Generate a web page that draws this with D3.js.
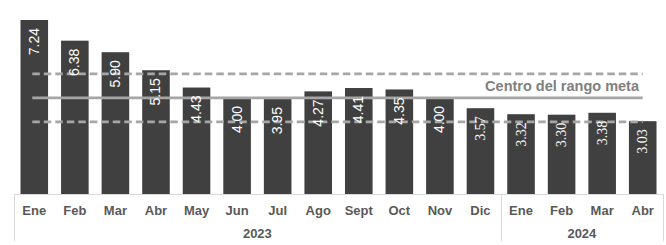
<!DOCTYPE html>
<html>
<head>
<meta charset="utf-8">
<script src="https://cdn.jsdelivr.net/npm/d3@7/dist/d3.min.js"></script>
<style>
  body { margin: 0; background: #fff; }
</style>
</head>
<body>
<div id="chart"></div>
<script>
// datos
var meses = ["Ene", "Feb", "Mar", "Abr", "May", "Jun", "Jul", "Ago", "Sept", "Oct", "Nov", "Dic", "Ene", "Feb", "Mar", "Abr"];
var anios = ["2023", "2023", "2023", "2023", "2023", "2023", "2023", "2023", "2023", "2023", "2023", "2023", "2024", "2024", "2024", "2024"];
var inflacion = [7.24, 6.38, 5.90, 5.15, 4.43, 4.00, 3.95, 4.27, 4.41, 4.35, 4.00, 3.57, 3.32, 3.30, 3.38, 3.03];
var rangoMeta = [3, 5];
var centroMeta = 4;

var width = 666, height = 245;
var left = 14, right = 663, base = 194;

var svg = d3.select("#chart").append("svg")
    .attr("width", width)
    .attr("height", height);

var ids = d3.range(meses.length);
var x = d3.scaleBand()
    .domain(ids)
    .range([left, right])
    .paddingInner(0.32)
    .paddingOuter(0.16);

var y = d3.scaleLinear()
    .domain([0, 7.24])
    .range([base, 20]);

// barras
svg.append("g")
    .selectAll("rect")
    .data(inflacion)
    .enter()
    .append("rect")
    .attr("x", function(d, i) { return x(i); })
    .attr("y", function(d) { return y(d); })
    .attr("width", x.bandwidth())
    .attr("height", function(d) { return base - y(d); })
    .attr("fill", "#404040");

// lineas de meta
var x0 = x(0) + x.bandwidth() / 2 - 2;
var x1 = x(ids.length - 1) + x.bandwidth() / 2;

svg.append("g")
    .selectAll("line")
    .data(rangoMeta)
    .enter()
    .append("line")
    .attr("x1", x0)
    .attr("x2", x1)
    .attr("y1", function(d) { return y(d); })
    .attr("y2", function(d) { return y(d); })
    .attr("stroke", "#a6a6a6")
    .attr("stroke-width", 2.6)
    .attr("stroke-dasharray", "7.5,4");

svg.append("line")
    .attr("x1", x0)
    .attr("x2", x1)
    .attr("y1", y(centroMeta))
    .attr("y2", y(centroMeta))
    .attr("stroke", "#a6a6a6")
    .attr("stroke-width", 2.6);

svg.append("text")
    .attr("x", 639)
    .attr("y", (y(rangoMeta[1]) + y(centroMeta)) / 2 + 5)
    .attr("text-anchor", "end")
    .attr("font-family", "Liberation Sans, Arial, sans-serif")
    .attr("font-size", "14.5px")
    .attr("font-weight", "bold")
    .attr("fill", "#808080")
    .text("Centro del rango meta");

// etiquetas de valor
svg.append("g")
    .selectAll("text")
    .data(inflacion)
    .enter()
    .append("text")
    .attr("transform", function(d, i) {
        return "translate(" + (x(i) + x.bandwidth() / 2 + 4.5) + "," + (y(d) + 8) + ") rotate(-90)";
    })
    .attr("text-anchor", "end")
    .attr("font-family", function(d, i) {
        return i >= 11 ? "Liberation Serif, serif" : "Liberation Sans Narrow, Liberation Sans, Arial, sans-serif";
    })
    .attr("font-size", "14px")
    .attr("fill", "#ffffff")
    .text(function(d) { return d.toFixed(2); });

// eje
var axis = svg.append("g").attr("class", "axis");
axis.append("line")
    .attr("x1", left).attr("x2", right)
    .attr("y1", base + 0.5).attr("y2", base + 0.5)
    .attr("stroke", "#d9d9d9");

axis.selectAll("text.mes")
    .data(meses)
    .enter()
    .append("text")
    .attr("class", "mes")
    .attr("x", function(d, i) { return x(i) + x.bandwidth() / 2; })
    .attr("y", 215)
    .attr("text-anchor", "middle")
    .attr("font-family", "Liberation Sans, Arial, sans-serif")
    .attr("font-size", "13px")
    .attr("font-weight", "bold")
    .attr("fill", "#595959")
    .text(function(d) { return d; });

// grupos de anios
var grupos = d3.groups(ids, function(i) { return anios[i]; });
var step = x.step();
var sep = [left];
grupos.forEach(function(g) {
    var last = g[1][g[1].length - 1];
    sep.push(x(last) + x.bandwidth() / 2 + step / 2);
});
sep[sep.length - 1] = right;

axis.selectAll("line.sep")
    .data(sep)
    .enter()
    .append("line")
    .attr("class", "sep")
    .attr("x1", function(d) { return Math.round(d) + 0.5; })
    .attr("x2", function(d) { return Math.round(d) + 0.5; })
    .attr("y1", base)
    .attr("y2", 241)
    .attr("stroke", "#d9d9d9");

axis.selectAll("text.anio")
    .data(grupos)
    .enter()
    .append("text")
    .attr("class", "anio")
    .attr("x", function(g, k) { return (sep[k] + sep[k + 1]) / 2; })
    .attr("y", 238)
    .attr("text-anchor", "middle")
    .attr("font-family", "Liberation Sans, Arial, sans-serif")
    .attr("font-size", "13px")
    .attr("font-weight", "bold")
    .attr("fill", "#595959")
    .text(function(g) { return g[0]; });
</script>
</body>
</html>
